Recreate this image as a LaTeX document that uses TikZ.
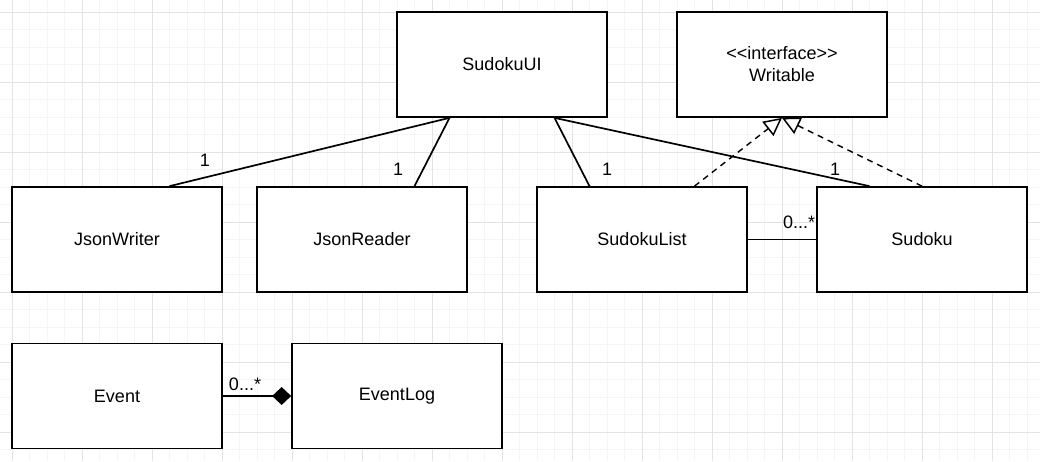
\documentclass[tikz,border=0pt]{standalone}
\usepackage{fontspec}
\setmainfont{Liberation Sans}
\usetikzlibrary{arrows.meta}
\begin{document}
\begin{tikzpicture}[x=1pt,y=-1pt,
  cls/.style={draw=black,line width=1.7pt,fill=white,minimum width=210pt,minimum height=105pt,inner sep=0pt,font=\fontsize{18}{22}\selectfont,align=center},
  assoc/.style={line width=1.7pt},
  real/.style={line width=1.4pt,dash pattern=on 6pt off 5pt,-{Triangle[open,length=18pt,width=18pt,line width=1.5pt]}},
  comp/.style={line width=1.7pt,-{Diamond[length=19pt,width=18pt]}},
  lbl/.style={font=\fontsize{18}{22}\selectfont,inner sep=0pt}]
\useasboundingbox (0,0) rectangle (1040,461);
\fill[white] (0,0) rectangle (1040,461);
% grid
\foreach \i in {0,...,59}{
  \pgfmathsetmacro\gx{12+17.5*\i}
  \draw[color=black!4,line width=0.8pt] (\gx,0) -- (\gx,461);
}
\foreach \i in {0,...,26}{
  \pgfmathsetmacro\gy{12+17.5*\i}
  \draw[color=black!4,line width=0.8pt] (0,\gy) -- (1040,\gy);
}
\foreach \i in {0,...,14}{
  \pgfmathsetmacro\gx{12+70*\i}
  \draw[color=black!11,line width=0.9pt] (\gx,0) -- (\gx,461);
}
\foreach \i in {0,...,6}{
  \pgfmathsetmacro\gy{12+70*\i}
  \draw[color=black!11,line width=0.9pt] (0,\gy) -- (1040,\gy);
}
% classes
\node[cls] (ui) at (502,64.5) {SudokuUI};
\node[cls] (wr) at (782,64.5) {<{}<interface>{}>\\Writable};
\node[cls] (jw) at (117,239.5) {JsonWriter};
\node[cls] (jr) at (362,239.5) {JsonReader};
\node[cls] (sl) at (642,239.5) {SudokuList};
\node[cls] (sd) at (922,239.5) {Sudoku};
\node[cls] (ev) at (117,396) {Event};
\node[cls] (el) at (397,396) {EventLog};
% associations
\draw[assoc] ([xshift=-52.5pt]ui.south) -- ([xshift=52.5pt]jw.north);
\draw[assoc] ([xshift=-52.5pt]ui.south) -- ([xshift=52.5pt]jr.north);
\draw[assoc] ([xshift=52.5pt]ui.south) -- ([xshift=-52.5pt]sl.north);
\draw[assoc] ([xshift=52.5pt]ui.south) -- ([xshift=-52.5pt]sd.north);
\draw[real] ([xshift=52.5pt]sl.north) -- (wr.south);
\draw[real] (sd.north) -- (wr.south);
\draw[assoc] (sl.east) -- (sd.west);
\draw[comp] (ev.east) -- (el.west);
% labels
\node[lbl] (l1) at (205,160) {1};
\node[lbl] (l2) at (398,169) {1};
\node[lbl] (l3) at (607,169) {1};
\node[lbl] (l4) at (835,169) {1};
\node[lbl] (l5) at (799,222) {0...*};
\node[lbl] (l6) at (245,384) {0...*};
\end{tikzpicture}
\end{document}
